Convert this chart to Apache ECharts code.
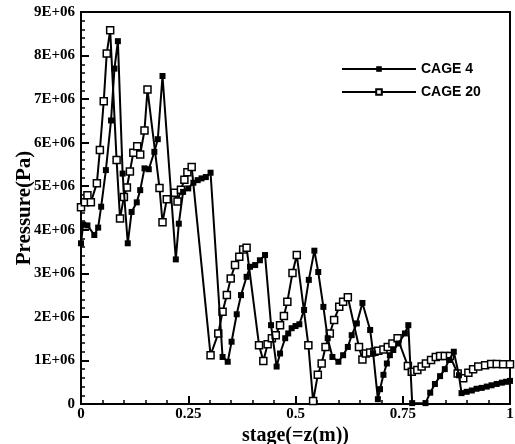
<!DOCTYPE html>
<html lang="en">
<head>
    <meta charset="UTF-8">
    <title>Pressure vs stage</title>
    <style>
        html, body { margin: 0; padding: 0; background: #fff; }
    </style>
</head>
<body>
    <div id="main" style="width: 515px;height:444px;"></div>
</body>
</html>
<script src="https://cdn.jsdelivr.net/npm/echarts@6/dist/echarts.min.js"></script>
<script type="text/javascript">
    // values, pressure in units of 1E+06 Pa
    const cage4Stage = [0, 0.005, 0.015, 0.031, 0.040, 0.047, 0.058, 0.070, 0.078, 0.086,
        0.097, 0.109, 0.118, 0.130, 0.138, 0.148, 0.158, 0.171, 0.179, 0.190,
        0.221, 0.228, 0.238, 0.250, 0.262, 0.272, 0.281, 0.291, 0.302,
        0.330, 0.342, 0.351, 0.363, 0.373, 0.386, 0.394, 0.406, 0.417, 0.429,
        0.443, 0.456, 0.464, 0.476, 0.483, 0.491, 0.500, 0.509, 0.520, 0.531, 0.544,
        0.553, 0.565, 0.575, 0.586, 0.600, 0.611, 0.622, 0.631, 0.643, 0.656,
        0.674, 0.681, 0.692, 0.697, 0.705, 0.713, 0.720, 0.728, 0.740, 0.755, 0.763,
        0.772, 0.803, 0.814, 0.825, 0.837, 0.848, 0.858, 0.869,
        0.881, 0.887, 0.899, 0.911, 0.922, 0.934, 0.946, 0.957, 0.969, 0.981, 0.991, 1.0];
    const cage4P = [3.69, 4.12, 4.10, 3.88, 4.05, 4.53, 5.37, 6.51, 7.70, 8.33,
        5.29, 3.69, 4.41, 4.63, 4.91, 5.41, 5.39, 5.79, 6.08, 7.53,
        3.32, 4.14, 4.87, 4.95, 5.08, 5.14, 5.18, 5.21, 5.31,
        1.08, 0.97, 1.43, 2.06, 2.50, 2.92, 3.15, 3.19, 3.30, 3.42,
        1.81, 0.86, 1.16, 1.51, 1.62, 1.74, 1.79, 1.83, 2.16, 2.85, 3.52,
        3.03, 2.23, 1.51, 1.08, 0.97, 1.12, 1.31, 1.58, 1.85, 2.32,
        1.70, 1.16, 0.11, 0.34, 0.67, 0.93, 1.12, 1.24, 1.39, 1.62, 1.81,
        0.02, 0.02, 0.26, 0.46, 0.64, 0.80, 1.01, 1.20,
        0.66, 0.25, 0.28, 0.31, 0.35, 0.37, 0.40, 0.43, 0.46, 0.49, 0.51, 0.53];

    const cage20Stage = [0, 0.009, 0.015, 0.023, 0.037, 0.044, 0.053, 0.060, 0.068,
        0.083, 0.091, 0.100, 0.107, 0.114, 0.122, 0.131, 0.138, 0.148, 0.155,
        0.183, 0.190, 0.200, 0.217, 0.225, 0.233, 0.241, 0.248, 0.258,
        0.302, 0.320, 0.330, 0.340, 0.349, 0.359, 0.369, 0.378, 0.386,
        0.415, 0.425, 0.435, 0.445, 0.454, 0.464, 0.473, 0.481, 0.493, 0.503,
        0.530, 0.541, 0.552, 0.561, 0.570, 0.580, 0.590, 0.602, 0.611, 0.622,
        0.648, 0.656, 0.664, 0.674, 0.684, 0.693, 0.705, 0.715, 0.726, 0.738,
        0.762, 0.771, 0.784, 0.794, 0.804, 0.816, 0.827, 0.837, 0.848, 0.860,
        0.878, 0.891, 0.903, 0.914, 0.926, 0.942, 0.956, 0.969, 0.984, 1.0];
    const cage20P = [4.52, 4.63, 4.79, 4.63, 5.07, 5.83, 6.95, 8.05, 8.58,
        5.60, 4.26, 4.75, 4.97, 5.34, 5.77, 5.92, 5.73, 6.28, 7.22,
        4.96, 4.17, 4.70, 4.85, 4.65, 4.92, 5.15, 5.32, 5.44,
        1.12, 1.62, 2.12, 2.50, 2.88, 3.19, 3.38, 3.55, 3.59,
        1.35, 0.99, 1.37, 1.51, 1.58, 1.81, 2.02, 2.35, 3.01, 3.42,
        1.35, 0.07, 0.67, 0.93, 1.31, 1.62, 1.93, 2.23, 2.35, 2.45,
        1.31, 1.02, 1.16, 1.18, 1.20, 1.22, 1.25, 1.31, 1.39, 1.51,
        0.87, 0.74, 0.78, 0.86, 0.93, 1.01, 1.08, 1.10, 1.10, 1.10,
        0.70, 0.59, 0.72, 0.80, 0.86, 0.89, 0.92, 0.92, 0.91, 0.91];

    const seriesNames = ['CAGE 4', 'CAGE 20'];

    const chart = echarts.init(document.getElementById('main'));

    const pairs = (xs, ys) => xs.map((x, i) => [x, ys[i] * 1e6]);

    const serifBold = {
        fontFamily: 'Liberation Serif',
        fontWeight: 'bold',
        color: '#000'
    };

    chart.setOption({
        animation: false,
        backgroundColor: '#fff',
        grid: {
            left: 81, right: 5, top: 12, bottom: 40,
            outerBoundsMode: 'none',
            containLabel: false,
            show: true,
            borderColor: '#000',
            borderWidth: 2
        },
        legend: {
            orient: 'vertical',
            left: 336,
            top: 57,
            itemWidth: 74,
            itemHeight: 7,
            itemGap: 9,
            data: seriesNames,
            textStyle: {
                fontFamily: 'Liberation Sans',
                fontWeight: 'bold',
                fontSize: 14,
                color: '#000'
            }
        },
        xAxis: {
            type: 'value',
            min: 0, max: 1, interval: 0.25,
            name: 'stage(=z(m))',
            nameLocation: 'middle',
            nameGap: 22,
            nameMoveOverlap: false,
            nameTextStyle: Object.assign({ fontSize: 20 }, serifBold),
            axisLine: { lineStyle: { color: '#000', width: 2 } },
            axisTick: { inside: true, length: 8, lineStyle: { width: 2 } },
            minorTick: { show: true, splitNumber: 5, length: 4, lineStyle: { color: '#000', width: 1.5 } },
            splitLine: { show: false },
            axisLabel: Object.assign({ fontSize: 15, margin: 3, formatter: v => String(v) }, serifBold)
        },
        yAxis: {
            type: 'value',
            min: 0, max: 9e6, interval: 1e6,
            name: 'Pressure(Pa)',
            nameLocation: 'middle',
            nameGap: 46,
            nameMoveOverlap: false,
            nameTextStyle: Object.assign({ fontSize: 21 }, serifBold),
            axisLine: { lineStyle: { color: '#000', width: 2 } },
            axisTick: { inside: true, length: 8, lineStyle: { width: 2 } },
            minorTick: { show: true, splitNumber: 5, length: 4, lineStyle: { color: '#000', width: 1.5 } },
            splitLine: { show: false },
            axisLabel: Object.assign({
                fontSize: 15,
                margin: 6,
                formatter: v => v === 0 ? '0' : (v / 1e6) + 'E+06'
            }, serifBold)
        },
        series: [
            {
                name: seriesNames[0],
                type: 'line',
                data: pairs(cage4Stage, cage4P),
                symbol: 'rect',
                symbolSize: 6,
                itemStyle: { color: '#000' },
                lineStyle: { color: '#000', width: 2 },
                z: 3
            },
            {
                name: seriesNames[1],
                type: 'line',
                data: pairs(cage20Stage, cage20P),
                symbol: 'rect',
                symbolSize: 7,
                itemStyle: { color: '#fff', borderColor: '#000', borderWidth: 1.5 },
                lineStyle: { color: '#000', width: 2 },
                z: 2
            }
        ]
    });
</script>
